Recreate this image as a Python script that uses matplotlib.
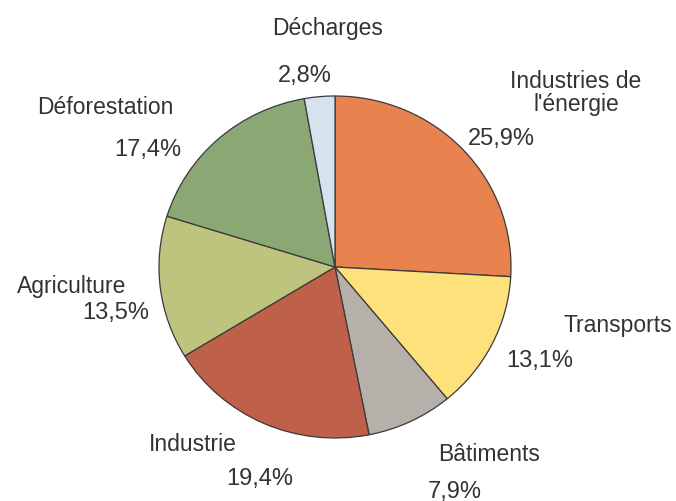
import matplotlib.pyplot as plt

labels = ["Industries de\nl'énergie", "Transports", "Bâtiments", "Industrie",
          "Agriculture", "Déforestation", "Décharges"]
values = [25.9, 13.1, 7.9, 19.4, 13.5, 17.4, 2.8]
pct_text = ["25,9%", "13,1%", "7,9%", "19,4%", "13,5%", "17,4%", "2,8%"]
colors = ["#E8834F", "#FDE17B", "#B6B0AA", "#BF6149", "#BEC37E", "#8BA874", "#D5E3EF"]

# label positions in pixels (x, y from top)
name_pos = [(576, 93), (618, 326), (489, 455), (193, 445), (72, 286), (105, 107), (328, 28)]
pct_pos = [(501, 139), (540, 361), (455, 492), (260, 479), (116, 313), (148, 150), (305, 76)]

W, H = 676, 502
plt.rcParams['font.family'] = ['Liberation Sans', 'DejaVu Sans']
fig = plt.figure(figsize=(W / 100, H / 100), dpi=100)

cx, cy, rx, ry = 335, 268, 176, 171
ax = fig.add_axes([(cx - rx) / W, (H - cy - ry) / H, 2 * rx / W, 2 * ry / H])
ax.pie(values, colors=colors, startangle=90, counterclock=False,
       wedgeprops=dict(edgecolor='#3a3a3a', linewidth=0.9))
ax.set_xlim(-1, 1)
ax.set_ylim(-1, 1)
ax.set_aspect('auto')
ax.axis('off')

for name, (x, y) in zip(labels, name_pos):
    fig.text(x / W, 1 - y / H, name, ha='center', va='center', fontsize=16.5,
             color='#333333', linespacing=1.05)
for p, (x, y) in zip(pct_text, pct_pos):
    fig.text(x / W, 1 - y / H, p, ha='center', va='center', fontsize=17,
             color='#333333')

fig.savefig('out.png', dpi=100)
